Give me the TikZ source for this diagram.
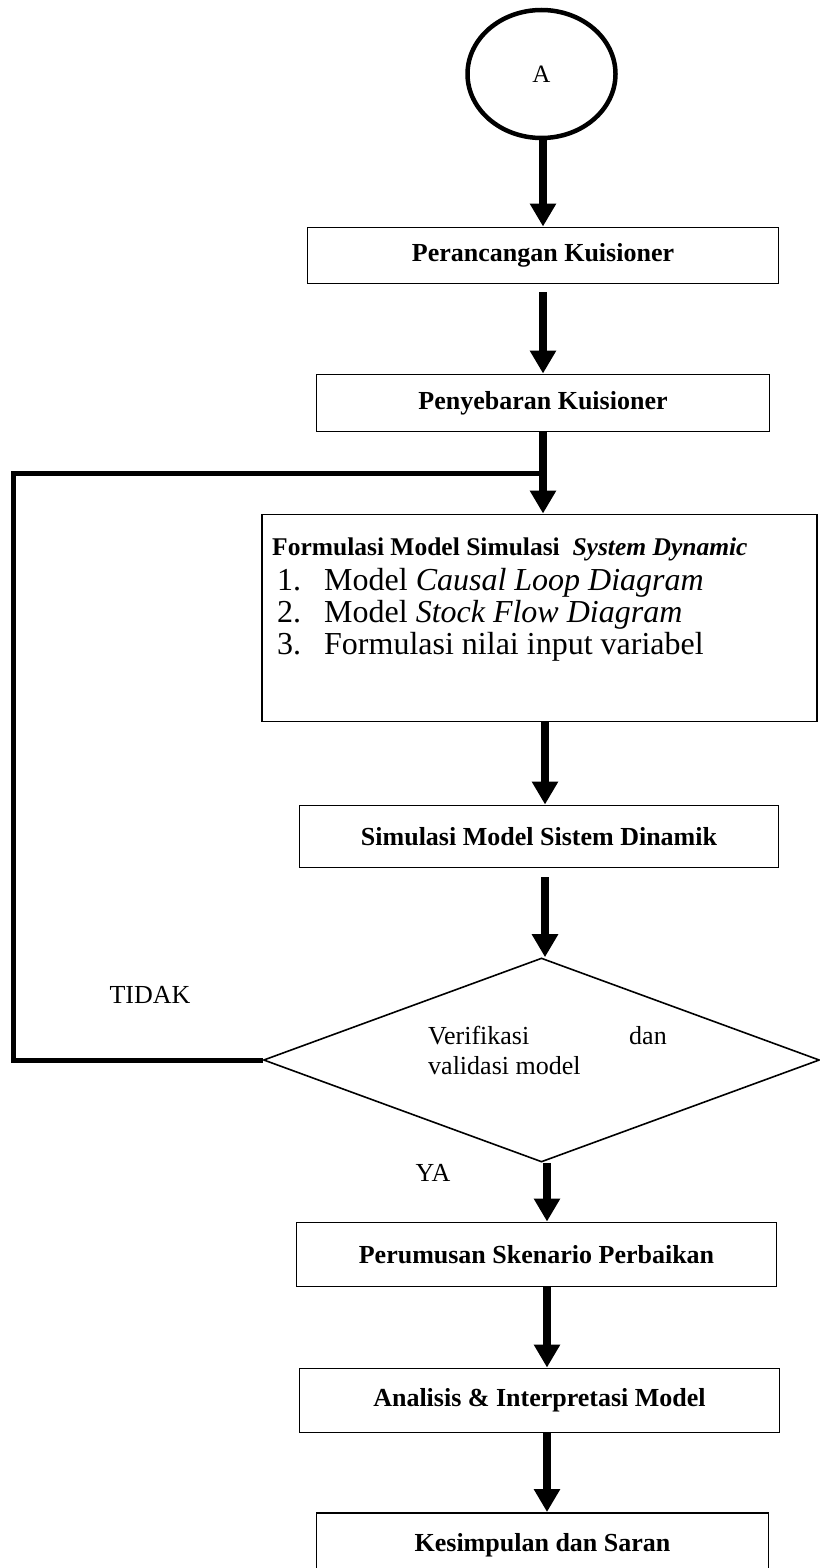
\documentclass[tikz,border=0pt]{standalone}
\usepackage{fontspec}
\setmainfont{Liberation Serif}
\usetikzlibrary{arrows.meta,shapes.geometric}
\begin{document}
\begin{tikzpicture}[x=1pt,y=-1pt,
  box/.style={draw, line width=1.9pt, rectangle, inner sep=0pt,
    font=\fontsize{26}{30}\selectfont\bfseries},
  flow/.style={line width=8.5pt, -{Triangle[width=25pt,length=23pt]}},
  loopline/.style={line width=5pt},
  lbl/.style={font=\fontsize{26}{30}\selectfont, inner sep=0pt},
  item/.style={font=\fontsize{32}{34}\selectfont, inner sep=0pt, anchor=base west}]
\useasboundingbox (0,0) rectangle (819,1568);
% spines
\coordinate (sA) at (543,0);
\coordinate (sB) at (545,0);
\coordinate (sC) at (547,0);
% nodes
\node[draw, ellipse, line width=4.5pt, minimum width=148pt, minimum height=128pt,
  inner sep=0pt, font=\fontsize{25}{30}\selectfont] (a) at (541.5,74) {A};
\node[box, minimum width=471pt, minimum height=56pt] (b1) at (543,255.5) {Perancangan Kuisioner};
\node[box, minimum width=453pt, minimum height=57pt] (b2) at (543,403) {Penyebaran Kuisioner};
\node[box, minimum width=555pt, minimum height=207pt] (form) at (539.5,618) {};
\node[inner sep=0pt, anchor=base west, font=\fontsize{25.5}{30}\selectfont\bfseries] (ft) at (272,555)
  {Formulasi Model Simulasi\ \ \textit{System Dynamic}};
\node[item] (n1) at (277,590) {1.};
\node[item] (i1) at (324,590) {Model \textit{Causal Loop Diagram}};
\node[item] (n2) at (277,622) {2.};
\node[item] (i2) at (324,622) {Model \textit{Stock Flow Diagram}};
\node[item] (n3) at (277,654) {3.};
\node[item] (i3) at (324,654) {Formulasi nilai input variabel};
\node[box, minimum width=479pt, minimum height=62pt] (sim) at (539,836.5) {Simulasi Model Sistem Dinamik};
\node[draw, diamond, line width=1.6pt, minimum width=556pt, minimum height=204pt,
  inner sep=0pt] (dia) at (541.5,1060) {};
\node[lbl, anchor=base west] (v1) at (428,1044) {Verifikasi};
\node[lbl, anchor=base west] (v2) at (629,1044) {dan};
\node[lbl, anchor=base west] (v3) at (428,1074) {validasi model};
\node[lbl, anchor=base] (tidak) at (150,1003) {TIDAK};
\node[lbl, anchor=base] (ya) at (433,1181) {YA};
\node[box, minimum width=480pt, minimum height=64pt] (p) at (536.5,1254.5) {Perumusan Skenario Perbaikan};
\node[box, minimum width=480pt, minimum height=64pt] (an) at (539.5,1400.5) {Analisis \& Interpretasi Model};
\node[box, minimum width=452pt, minimum height=64pt] (k) at (542.5,1545) {Kesimpulan dan Saran};
% loop
\coordinate (corner) at (13,473);
\coordinate (jn) at (543,473);
\draw[loopline] (dia.west) -| (corner) -- (jn);
% arrows
\draw[flow] (a.south -| sA) -- (b1.north -| sA);
\draw[flow, shorten <=8pt] (b1.south -| sA) -- (b2.north -| sA);
\draw[flow] (b2.south -| sA) -- (form.north -| sA);
\draw[flow] (form.south -| sB) -- (sim.north -| sB);
\draw[flow, shorten <=9pt] (sim.south -| sB) -- (dia.north -| sB);
\draw[flow] (dia.south -| sC) -- (p.north -| sC);
\draw[flow] (p.south -| sC) -- (an.north -| sC);
\draw[flow] (an.south -| sC) -- (k.north -| sC);
\end{tikzpicture}
\end{document}
